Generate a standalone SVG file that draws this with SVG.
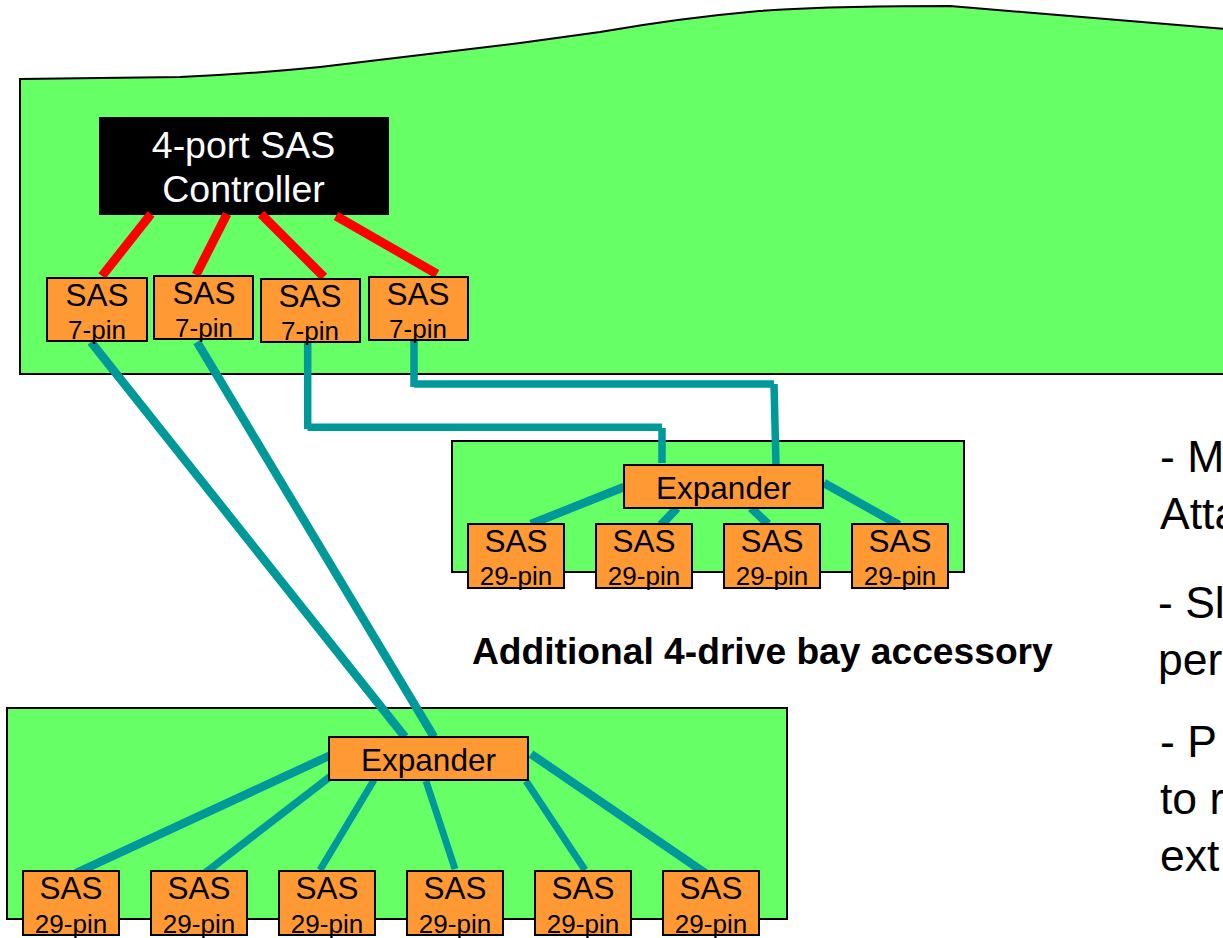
<svg xmlns="http://www.w3.org/2000/svg" width="1223" height="938" viewBox="0 0 1223 938">
<style>
text{font-family:"Liberation Sans",Arial,sans-serif;fill:#000}
.board{fill:#66ff66;stroke:#000;stroke-width:2}
.box{fill:#ff9933;stroke:#000;stroke-width:2}
.sas{font-size:31.5px;text-anchor:middle}
.pin{font-size:26px;text-anchor:middle}
.exp{font-size:31.500px;text-anchor:middle}
.note{font-size:44.5px}
.ctl{font-size:37.5px;text-anchor:middle;fill:#fff}
.red{stroke:#ff0000;stroke-width:9;fill:none}
.teal{stroke:#009999;stroke-width:7.5;fill:none}
.thick{stroke-width:8.5}
.thin{stroke-width:7}
</style>
<g id="boards">
<path id="main-board" class="board" d="M1225 29L950 6Q900 6 854 7Q800 8 759 11Q680 18 600 32L520 43L320 67Q250 74 180 77L20 79V374H1225Z"/>
<rect id="bay-board-4" class="board" x="452" y="441" width="512" height="131"/>
<rect id="bay-board-6" class="board" x="7" y="708" width="780" height="211"/>
</g>
<g id="controller">
<rect x="99" y="117" width="290" height="98" fill="#000"/>
<text class="ctl" x="243.500" y="158">4-port SAS</text>
<text class="ctl" x="243.500" y="202">Controller</text>
</g>
<g id="connectors">
<path class="red" d="M151 214L102 276M227 214L196 275M261 214L324 277M336 216L437 274"/>
<path class="teal thick" d="M91 342L405 737M197 342L434 737"/>
<path class="teal" d="M307.700 341V429M307.500 427.300H662M662 428V463"/>
<path class="teal" d="M414 340V387M414 384H774M774 384L776 465"/>
<path class="teal thick" d="M624 487L531 524M677 508L661 525M751 508L768 524M824 483L899 525"/>
<path class="teal thick" d="M331 755L76 873"/>
<path class="teal" d="M331 776L205 873"/>
<path class="teal thin" d="M374 780L320 870M426 781L455 869M526 781L585 870"/>
<path class="teal thick" d="M531 754L708 875"/>
</g>
<g id="sas-7-1"><rect class="box" x="47" y="278" width="100" height="63"/><text class="sas" x="97" y="306">SAS</text><text class="pin" x="97" y="339">7-pin</text></g>
<g id="sas-7-2"><rect class="box" x="154" y="276" width="99" height="63"/><text class="sas" x="204" y="304">SAS</text><text class="pin" x="204" y="337">7-pin</text></g>
<g id="sas-7-3"><rect class="box" x="261" y="279" width="99" height="63"/><text class="sas" x="310" y="307">SAS</text><text class="pin" x="310" y="340">7-pin</text></g>
<g id="sas-7-4"><rect class="box" x="369" y="277" width="99" height="63"/><text class="sas" x="418" y="305">SAS</text><text class="pin" x="418" y="338">7-pin</text></g>
<g id="expander-a"><rect class="box" x="624" y="465" width="199" height="43"/><text class="exp" x="723.500" y="499">Expander</text></g>
<g id="sas-29-a1"><rect class="box" x="468" y="524" width="96" height="64"/><text class="sas" x="516" y="552">SAS</text><text class="pin" x="516" y="585">29-pin</text></g>
<g id="sas-29-a2"><rect class="box" x="596" y="524" width="96" height="64"/><text class="sas" x="644" y="552">SAS</text><text class="pin" x="644" y="585">29-pin</text></g>
<g id="sas-29-a3"><rect class="box" x="724" y="524" width="96" height="64"/><text class="sas" x="772" y="552">SAS</text><text class="pin" x="772" y="585">29-pin</text></g>
<g id="sas-29-a4"><rect class="box" x="852" y="524" width="96" height="64"/><text class="sas" x="900" y="552">SAS</text><text class="pin" x="900" y="585">29-pin</text></g>
<g id="expander-b"><rect class="box" x="329" y="737" width="199" height="43"/><text class="exp" x="428.500" y="771">Expander</text></g>
<g id="sas-29-b1"><rect class="box" x="23" y="871" width="96" height="64"/><text class="sas" x="71" y="899">SAS</text><text class="pin" x="71" y="932.500">29-pin</text></g>
<g id="sas-29-b2"><rect class="box" x="151" y="871" width="96" height="64"/><text class="sas" x="199" y="899">SAS</text><text class="pin" x="199" y="932.500">29-pin</text></g>
<g id="sas-29-b3"><rect class="box" x="279" y="871" width="96" height="64"/><text class="sas" x="327" y="899">SAS</text><text class="pin" x="327" y="932.500">29-pin</text></g>
<g id="sas-29-b4"><rect class="box" x="407" y="871" width="96" height="64"/><text class="sas" x="455" y="899">SAS</text><text class="pin" x="455" y="932.500">29-pin</text></g>
<g id="sas-29-b5"><rect class="box" x="535" y="871" width="96" height="64"/><text class="sas" x="583" y="899">SAS</text><text class="pin" x="583" y="932.500">29-pin</text></g>
<g id="sas-29-b6"><rect class="box" x="663" y="871" width="96" height="64"/><text class="sas" x="711" y="899">SAS</text><text class="pin" x="711" y="932.500">29-pin</text></g>
<g id="labels">
<text x="472" y="664" font-size="37.2px" font-weight="bold">Additional 4-drive bay accessory</text>
<text class="note" x="1160" y="472">- M</text>
<text class="note" x="1160" y="529">Atta</text>
<text class="note" x="1158" y="618">- Sl</text>
<text class="note" x="1158" y="675">per</text>
<text class="note" x="1160" y="757">- P</text>
<text class="note" x="1160" y="814">to r</text>
<text class="note" x="1160" y="871">ext</text>
</g>
</svg>
